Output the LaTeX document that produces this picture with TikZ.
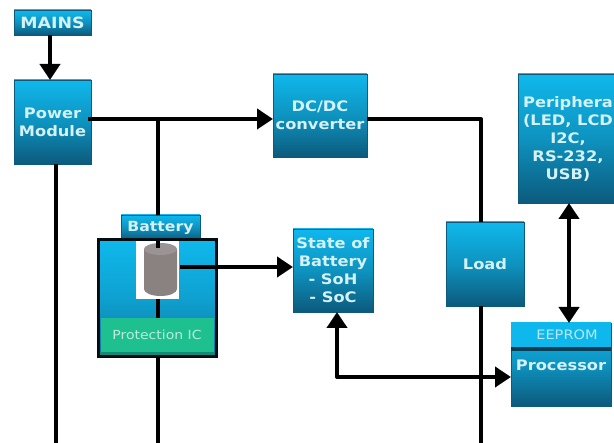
\documentclass[tikz,border=0pt]{standalone}
\usepackage{fontspec}
\setmainfont{DejaVu Sans}[FakeStretch=1.12]
\usetikzlibrary{arrows.meta,calc}
\definecolor{topblue}{HTML}{0FB8EC}
\definecolor{botblue}{HTML}{0C5A7C}
\definecolor{txtlight}{HTML}{D3F1F6}
\definecolor{greenic}{HTML}{1FC08F}
\definecolor{tealdark}{HTML}{128A78}
\definecolor{greytop}{HTML}{9A9494}
\definecolor{greybat}{HTML}{8A8280}
\tikzset{
  blockbox/.style={minimum width=#1, inner sep=0pt, outer sep=0pt, top color=topblue, bottom color=botblue, middle color=topblue!60!botblue, draw=botblue, line width=.6pt, text=txtlight, align=center, font=\fontsize{14.5}{18}\selectfont\bfseries},
  wire/.style={line width=4pt, draw=black, line join=round},
  arr/.style={wire, -{Triangle[length=16pt,width=20pt]}},
  darr/.style={wire, {Triangle[length=16pt,width=20pt]}-{Triangle[length=16pt,width=20pt]}},
}
\begin{document}
\begin{tikzpicture}[x=1pt,y=-1pt]
\useasboundingbox (0,0) rectangle (614,443);
\fill[white] (0,0) rectangle (614,443);
\clip (0,0) rectangle (614,443);
% blocks
\node[blockbox=77pt, minimum height=25pt, font=\fontsize{15.5}{18}\selectfont\bfseries] (mains) at (52.5,22.5) {MAINS};
\node[blockbox=77pt, minimum height=84pt] (power) at (52.5,122) {Power\\Module};
\node[blockbox=94pt, minimum height=83pt] (dcdc) at (320,115.5) {DC/DC\\converter};
\node[blockbox=100pt, minimum height=129pt] (periph) at (568,138.5) {Periphera\\(LED, LCD\\I2C,\\RS-232,\\USB)};
\node[blockbox=78pt, minimum height=84pt] (load) at (485,264) {Load};
\node[blockbox=80pt, minimum height=83pt] (state) at (333,270.5) {State of\\Battery\\- SoH\\- SoC};
\node[blockbox=100pt, minimum height=83pt] (proc) at (561,364.5) {};
\fill[topblue] (proc.north west) rectangle (611,347);
\fill[botblue!70!black] (511,347) rectangle (611,351);
\node[text=txtlight!85!topblue, font=\fontsize{13}{15}\selectfont] (eeprom) at (567,335) {EEPROM};
\node[text=txtlight, font=\fontsize{14.5}{15}\selectfont\bfseries] (proclabel) at (561,365) {Processor};
% battery assembly
\node[blockbox=118pt, minimum height=117pt, draw=black!85!botblue, line width=3pt, top color=topblue, bottom color=botblue!70!topblue, middle color=topblue!75!botblue] (pack) at (157,298.5) {};
\node[blockbox=79pt, minimum height=25pt, font=\fontsize{14}{16}\selectfont\bfseries] (batt) at (160.5,227.5) {Battery};
\node[minimum width=43pt, minimum height=58pt, inner sep=0pt, fill=white] (cell) at (157.5,270) {};
\node[minimum width=113pt, minimum height=34pt, inner sep=0pt, fill=greenic, anchor=north, text=white!70!greenic, font=\fontsize{12.5}{14}\selectfont] (ic) at (157,318) {Protection IC};
\fill[tealdark] (ic.south west) rectangle (ic.south east |- 0,355.5);
\draw[line width=3pt, draw=black!85!botblue] (pack.north west) rectangle (pack.south east);
% cylinder
\fill[greybat] (144,249) -- (144,289) arc[start angle=180,end angle=360,x radius=16.5pt,y radius=7pt] -- (177,249) -- cycle;
\fill[greytop] (160.5,249) ellipse[x radius=16.5pt,y radius=6pt];
% connectors
\coordinate (jct) at (power.east |- 0,119);
\coordinate (tap) at (158,119);
\coordinate (bend) at (481,119);
\coordinate (lower) at (337,377);
\coordinate (pmend) at (56,443);
\coordinate (battend) at (158,443);
\coordinate (loadend) at (481,443);
\coordinate (cellout) at (180,267);
\coordinate (mainsx) at (50,35);
\draw[arr] (mainsx) -- (mainsx |- power.north);
\draw[arr] ($(jct)+(-3,0)$) -- (dcdc.west |- jct);
\draw[wire] (tap) -- (tap |- batt.north);
\draw[wire] (dcdc.east |- jct) -- (bend) -- (bend |- load.north);
\draw[wire] (pmend |- power.south) -- (pmend);
\draw[wire] (battend |- pack.south) -- (battend);
\draw[wire] (loadend |- load.south) -- (loadend);
\draw[wire] (158,299) -- (158,318);
\draw[wire] (158,241) -- (158,248);
\draw[arr] (cellout) -- (state.west |- cellout);
\draw[darr] (lower |- state.south) -- (lower) -- (proc.west |- lower);
\draw[darr] (periph.south -| 569,0) -- (proc.north -| 569,0);
\end{tikzpicture}
\end{document}
